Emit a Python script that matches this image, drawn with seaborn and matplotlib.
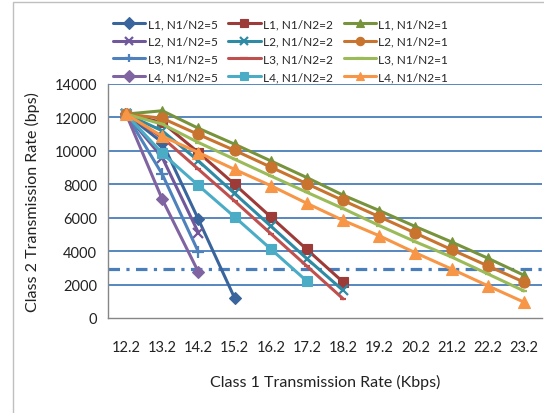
import matplotlib
matplotlib.use("Agg")
import matplotlib.pyplot as plt
import seaborn as sns
import pandas as pd
from matplotlib.patches import Rectangle

sns.set_theme(style="white")
plt.rcParams['font.family'] = ['Lato', 'DejaVu Sans']

categories = ["12.2", "13.2", "14.2", "15.2", "16.2", "17.2", "18.2", "19.2", "20.2", "21.2", "22.2", "23.2"]

# N1/N2 = 5
L1_r5 = [12200, 10500, 5900, 1200]
L2_r5 = [12200, 9600, 5100]
L3_r5 = [12200, 8600, 3950]
L4_r5 = [12200, 7100, 2750]
# N1/N2 = 2
L1_r2 = [12200, 11700, 9900, 8000, 6050, 4100, 2150]
L2_r2 = [12200, 11200, 9400, 7450, 5500, 3550, 1650]
L3_r2 = [12200, 10800, 8900, 7000, 5050, 3100, 1150]
L4_r2 = [12200, 9850, 7930, 6050, 4130, 2200]
# N1/N2 = 1
L1_r1 = [12200, 12400, 11350, 10400, 9400, 8400, 7350, 6430, 5470, 4550, 3580, 2560]
L2_r1 = [12200, 11950, 10980, 10030, 9030, 8030, 7030, 6060, 5080, 4090, 3120, 2150]
L3_r1 = [12200, 11600, 10500, 9500, 8500, 7520, 6550, 5530, 4560, 3650, 2640, 1620]
L4_r1 = [12200, 10870, 9900, 8890, 7920, 6860, 5840, 4920, 3900, 2930, 1930, 950]
threshold = 2950

series_names = ["L1, N1/N2=5", "L2, N1/N2=5", "L3, N1/N2=5", "L4, N1/N2=5",
                "L1, N1/N2=2", "L2, N1/N2=2", "L3, N1/N2=2", "L4, N1/N2=2",
                "L1, N1/N2=1", "L2, N1/N2=1", "L3, N1/N2=1", "L4, N1/N2=1"]
series_values = [L1_r5, L2_r5, L3_r5, L4_r5,
                 L1_r2, L2_r2, L3_r2, L4_r2,
                 L1_r1, L2_r1, L3_r1, L4_r1]

styles = {
    "L1, N1/N2=5": ("#3A649C", "D", 6),
    "L2, N1/N2=5": ("#71589A", "x", 7),
    "L3, N1/N2=5": ("#4F81BD", "+", 8),
    "L4, N1/N2=5": ("#8064A2", "D", 6),
    "L1, N1/N2=2": ("#9C3B38", "s", 7),
    "L2, N1/N2=2": ("#2F8AA3", "x", 7),
    "L3, N1/N2=2": ("#C0504D", "_", 5),
    "L4, N1/N2=2": ("#4BACC6", "s", 7),
    "L1, N1/N2=1": ("#77933C", "^", 7),
    "L2, N1/N2=1": ("#C8742E", "o", 8),
    "L3, N1/N2=1": ("#9BBB59", "_", 5),
    "L4, N1/N2=1": ("#F79646", "^", 8),
}

fig = plt.figure(figsize=(5.44, 4.14), dpi=100)
ax = fig.add_axes([108/544, 1 - 319/414, (542-108)/544, (319-85)/414])

# chart border
fig.patches.append(Rectangle((13/544, -0.1), 1.2, 1 - 3/414 + 0.1, transform=fig.transFigure,
                             fill=False, edgecolor="#BFBFBF", lw=1.0))

for y in range(2000, 14001, 2000):
    ax.axhline(y, color="#4A7EBB", lw=1.3, zorder=0)

ax.axhline(threshold, color="#4A7EBB", lw=2.3, dashes=(3.6, 2, 1, 2), zorder=1)

for name, vals in zip(series_names, series_values):
    color, marker, ms = styles[name]
    df = pd.DataFrame({"x": list(range(len(vals))), "y": vals})
    mew = 1.6 if marker in ("x", "+", "_") else 0.8
    sns.lineplot(data=df, x="x", y="y", ax=ax, color=color, lw=2.2, marker=marker,
                 markersize=ms, markeredgecolor=color, markerfacecolor=color,
                 markeredgewidth=mew, label=name)

ax.set_xlim(-0.5, 11.5)
ax.set_ylim(0, 14000)
ax.set_xticks(range(len(categories)))
ax.set_xticklabels(categories, fontsize=10.5)
ax.set_xticks([i - 0.5 for i in range(len(categories) + 1)], minor=True)
ax.tick_params(axis="x", which="major", length=0, pad=16)
ax.tick_params(axis="x", which="minor", length=5, direction="out", color="#868686", width=1)
ax.set_yticks(range(0, 14001, 2000))
ax.set_yticklabels([str(v) for v in range(0, 14001, 2000)], fontsize=10.5)
ax.tick_params(axis="y", length=5, direction="out", color="#868686", width=1, pad=3)
ax.tick_params(colors="#222222", which="major")
ax.tick_params(axis="y", colors="#222222")

for s in ["top", "right"]:
    ax.spines[s].set_visible(False)
for s in ["left", "bottom"]:
    ax.spines[s].set_color("#868686")
    ax.spines[s].set_linewidth(1)

ax.set_xlabel("Class 1 Transmission Rate (Kbps)", fontsize=11.5, labelpad=14, color="#222222")
ax.set_ylabel("Class 2 Transmission Rate (bps)", fontsize=11.5, labelpad=10, color="#222222")

leg = ax.legend(ncol=3, loc="upper left", bbox_to_anchor=(113/544, 1 - 19/414),
                bbox_transform=fig.transFigure, frameon=False, fontsize=8.6,
                handlelength=2.7, handletextpad=0.2, columnspacing=0.9,
                labelspacing=0.56, borderaxespad=0, borderpad=0)
for h in leg.legend_handles:
    h.set_markersize(6)

fig.savefig("out.png", dpi=100)
